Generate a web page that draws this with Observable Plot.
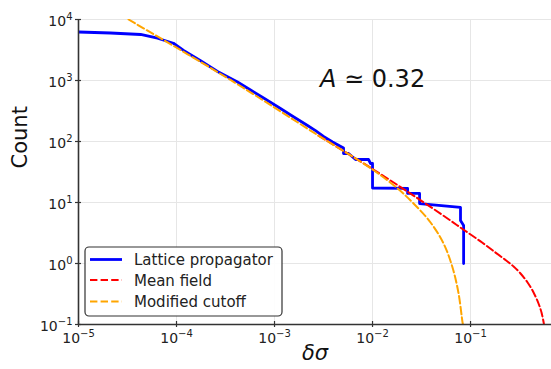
<!DOCTYPE html>
<html><head><meta charset="utf-8">
<script src="https://cdn.jsdelivr.net/npm/d3@7"></script>
<script src="https://cdn.jsdelivr.net/npm/@observablehq/plot@0.6"></script>
<style>body{margin:0;background:#fff} svg{display:block}</style>
</head><body><div id="chart"></div>
<script>
// Lattice propagator (step-like empirical curve)
const latticeX = [1e-5, 2.12e-5, 4.3e-5, 6.4e-5, 9.3e-5, 1.18e-4, 1.76e-4, 2.62e-4, 4.19e-4, 5.69e-4, 7.73e-4, 1.15e-3, 1.46e-3, 2.17e-3, 2.62e-3, 3.16e-3, 3.91e-3, 5.06e-3, 5.06e-3, 5.69e-3, 6.71e-3, 9.1e-3, 9.55e-3, 0.01, 0.01, 0.0228, 0.0228, 0.0302, 0.0302, 0.079, 0.079, 0.085, 0.085];
const latticeY = [6240, 6010, 5680, 4930, 4080, 3105, 2110, 1410, 944, 698, 516, 347, 272, 183, 151, 121, 98.2, 78.2, 63.6, 63.6, 50.7, 50.7, 43.6, 43.6, 17.3, 17.0, 14.1, 14.1, 9.6, 8.3, 5.07, 4.2, 1.0];
// Mean field
const meanX = [2.81e-3, 0.01, 0.0262, 0.0582, 0.0828, 0.1265, 0.180, 0.2275, 0.275, 0.3236, 0.382, 0.4395, 0.494, 0.530, 0.562];
const meanY = [125, 35.4, 13.0, 5.47, 3.68, 2.30, 1.51, 1.14, 0.893, 0.686, 0.489, 0.335, 0.221, 0.157, 0.1];
// Modified cutoff
const cutX = [3.24e-5, 3.56e-4, 2.81e-3, 0.01, 0.018, 0.0262, 0.0391, 0.053, 0.0655, 0.0755, 0.0829, 0.0838];
const cutY = [10000, 1020, 125, 34.8, 17.0, 9.64, 4.70, 2.13, 0.86, 0.322, 0.108, 0.1];

const seriesNames = ["Lattice propagator", "Mean field", "Modified cutoff"];
const seriesColors = ["#0000ff", "#ff0000", "#ffa500"];
const xTicks = [1e-5, 1e-4, 1e-3, 1e-2, 1e-1];
const yTicks = [1e-1, 1, 10, 100, 1000, 1e4];
const annotation = "A ≃ 0.32";
const xLabel = "δσ";
const yLabel = "Count";

const fmt = v => "10^" + Math.round(Math.log10(v));

const lattice = latticeX.map((x, i) => ({x, y: latticeY[i]}));
const mean = meanX.map((x, i) => ({x, y: meanY[i]}));
const cut = cutX.map((x, i) => ({x, y: cutY[i]}));

const axisColor = "#333";
const gridColor = "#e6e6e6";
const dash = "7.4,3.2";

const plot = Plot.plot({
  width: 551, height: 369,
  marginLeft: 78, marginRight: 0, marginTop: 19, marginBottom: 45,
  style: {fontFamily: "DejaVu Sans", fontSize: "14px", color: "#222", background: "#fff"},
  x: {type: "log", domain: [1e-5, 0.67]},
  y: {type: "log", domain: [0.1, 1e4]},
  marks: [
    Plot.gridX(xTicks, {stroke: gridColor, strokeOpacity: 1, strokeWidth: 1}),
    Plot.gridY(yTicks, {stroke: gridColor, strokeOpacity: 1, strokeWidth: 1}),
    Plot.line(lattice, {x: "x", y: "y", stroke: seriesColors[0], strokeWidth: 2.8, strokeLinejoin: "round", clip: true}),
    Plot.line(mean, {x: "x", y: "y", stroke: seriesColors[1], strokeWidth: 2, strokeDasharray: dash, curve: "catmull-rom", clip: true}),
    Plot.line(cut, {x: "x", y: "y", stroke: seriesColors[2], strokeWidth: 2, strokeDasharray: dash, curve: "catmull-rom", clip: true}),
    Plot.ruleY([0.1], {stroke: axisColor, strokeWidth: 1.6}),
    Plot.ruleX([1e-5], {stroke: axisColor, strokeWidth: 1.6}),
    // ticks crossing the axis lines
    Plot.axisX(xTicks, {anchor: "bottom", tickSize: 6, dy: -3, fill: "none", stroke: axisColor, strokeWidth: 1.2, label: null}),
    Plot.axisY(yTicks, {anchor: "left", tickSize: 6, dx: 3, fill: "none", stroke: axisColor, strokeWidth: 1.2, label: null}),
    // tick labels
    Plot.axisX(xTicks, {anchor: "bottom", tickSize: 3, tickPadding: 6, stroke: "none", fill: "#222", fontSize: 14, tickFormat: fmt, label: null}),
    Plot.axisY(yTicks, {anchor: "left", tickSize: 3, tickPadding: 3, stroke: "none", fill: "#222", fontSize: 14, tickFormat: fmt, dy: 2, label: null}),
    Plot.text([yLabel], {text: d => d, frameAnchor: "left", rotate: -90, dx: -58, dy: -3.5, fontSize: 21, fill: "#111"}),
    Plot.text([xLabel], {text: d => d, frameAnchor: "bottom", dy: 35, fontSize: 21, fontStyle: "italic", fill: "#111"}),
    Plot.text([annotation], {text: d => d, x: () => 0.01, y: () => 1040, fontSize: 24, fill: "#111", textAnchor: "middle"})
  ]
});
document.getElementById("chart").appendChild(plot);

const svg = d3.select(plot);
// superscript exponents on tick labels, italic A in annotation
svg.selectAll("text").each(function() {
  const t = d3.select(this);
  const s = t.text();
  const m = s.match(/^10\^(-?\d+)$/);
  if (m) {
    t.text("");
    t.append("tspan").text("10");
    t.append("tspan").attr("font-size", "10px").attr("dy", "-0.6em").text(m[1].replace("-", "−"));
  } else if (s === annotation) {
    t.text("");
    t.append("tspan").attr("font-style", "italic").text("A");
    t.append("tspan").text(" ≃ 0.32");
  }
});

// legend
const lg = svg.append("g").attr("font-family", "DejaVu Sans").attr("font-size", 15).attr("text-anchor", "start");
lg.append("rect").attr("x", 85).attr("y", 247).attr("width", 197).attr("height", 69)
  .attr("rx", 4).attr("fill", "#fff").attr("fill-opacity", 0.9).attr("stroke", "#333").attr("stroke-width", 1.2);
const rows = [259.5, 280, 301.5];
seriesNames.forEach((name, i) => {
  lg.append("line").attr("x1", 90).attr("x2", 122).attr("y1", rows[i]).attr("y2", rows[i])
    .attr("stroke", seriesColors[i]).attr("stroke-width", i === 0 ? 2.8 : 2)
    .attr("stroke-dasharray", i === 0 ? null : dash);
  lg.append("text").attr("x", 134).attr("y", rows[i] + 5.6).attr("fill", "#222").text(name);
});
</script>
</body></html>
